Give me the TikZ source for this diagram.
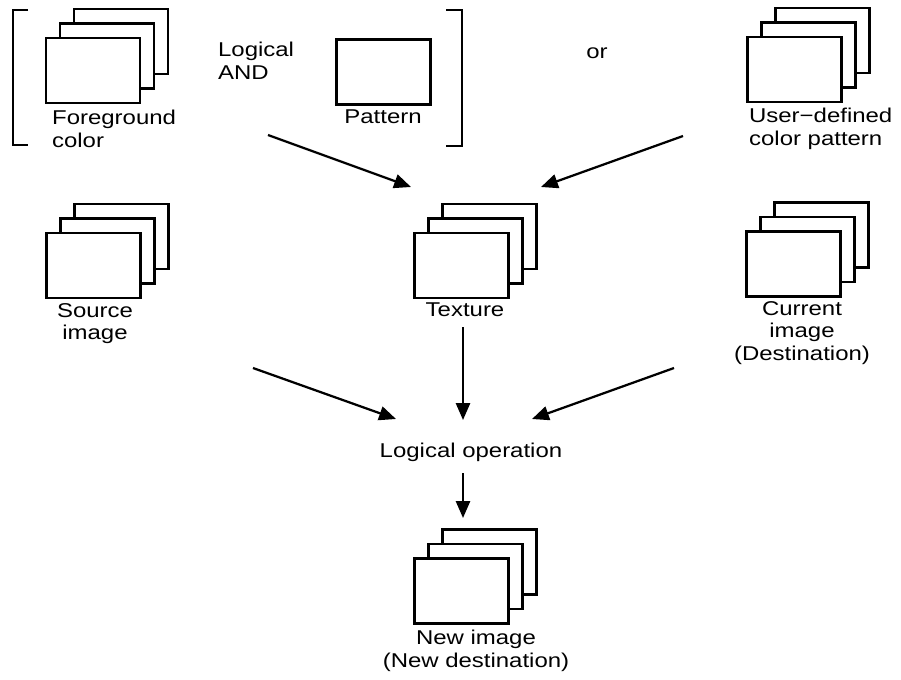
\documentclass[tikz,border=0pt]{standalone}
\usepackage{fontspec}
\setmainfont{Liberation Sans}[FakeStretch=1.2]
\usetikzlibrary{positioning,arrows.meta,calc}

\begin{document}
\begin{tikzpicture}[x=.025cm, y=-.025cm, line width=1.6pt,
    every node/.style={font=\fontsize{14.2}{16.3}\selectfont, inner sep=0pt},
    sheet/.style={draw, fill=white, minimum width=2.35cm, minimum height=1.625cm},
    arr/.style={-{Triangle[length=12pt, width=10pt]}}]
  \useasboundingbox (0,0) rectangle (901,679);
  % image stacks: back, middle, front
  \foreach \n/\x/\y in {fg/93/70.5, usr/794.5/69.5, src/93.5/265.5, tex/461.5/265.5, cur/793.5/264, new/461.5/591} {
    \node[sheet] (\n3) at (\x+28,\y-29) {};
    \node[sheet] (\n2) at (\x+14,\y-14.5) {};
    \node[sheet] (\n) at (\x,\y) {};
  }
  \node[sheet] (pat) at (383.5,72) {};
  % labels
  \node[anchor=north west, align=left] (fgl) at (51,109) {Foreground\\color};
  \node[anchor=north west, align=left] (andl) at (217,41) {Logical\\AND};
  \node[anchor=north] (patl) at (383,109) {Pattern};
  \node[anchor=base] (orl) at (597,58) {or};
  \node[anchor=north west, align=left] (usrl) at (748,107) {User−defined\\color pattern};
  \node[anchor=north, align=center] (srcl) at (95,302) {Source\\image};
  \node[anchor=north] (texl) at (465,302) {Texture};
  \node[anchor=north, align=center] (curl) at (802,300) {Current\\image\\(Destination)};
  \node[anchor=base] (lop) at (471,457) {Logical operation};
  \node[anchor=north, align=center] (newl) at (476,629) {New image\\(New destination)};
  % brackets round foreground AND pattern
  \draw (28,10) -- (13,10) -- (13,145) -- (28,145);
  \draw (446,10) -- (462,10) -- (462,146) -- (446,146);
  % arrow ends
  \coordinate (andout) at (268,135);
  \coordinate (usrout) at (683,136);
  \coordinate (texinl) at (411,187);
  \coordinate (texinr) at (541,187);
  \coordinate (srcout) at (253,368);
  \coordinate (texout) at (463,327);
  \coordinate (curout) at (674,368);
  \coordinate (lopinl) at (396,419);
  \coordinate (lopin) at (463,420);
  \coordinate (lopinr) at (532,419);
  \coordinate (lopout) at (463,473);
  \coordinate (newin) at (463,518);
  \draw[arr] (andout) -- (texinl);
  \draw[arr] (usrout) -- (texinr);
  \draw[arr] (srcout) -- (lopinl);
  \draw[arr] (texout) -- (lopin);
  \draw[arr] (curout) -- (lopinr);
  \draw[arr] (lopout) -- (newin);
\end{tikzpicture}
\end{document}
